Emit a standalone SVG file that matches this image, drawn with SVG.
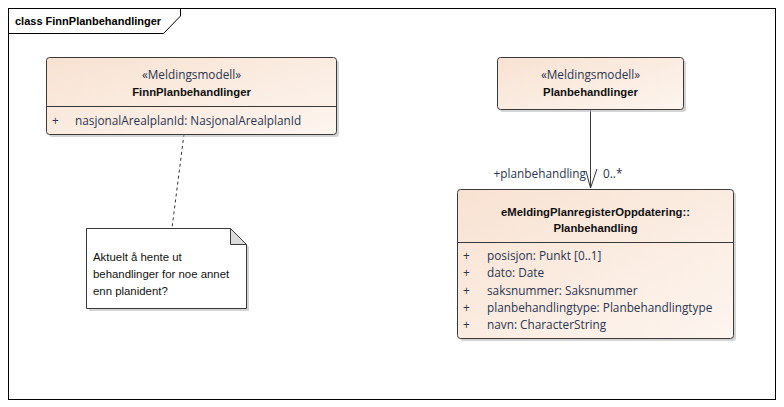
<svg xmlns="http://www.w3.org/2000/svg" width="784" height="407" viewBox="0 0 784 407">
<defs>
<linearGradient id="cls" x1="0" y1="0" x2="1" y2="1">
<stop offset="0" stop-color="#f8e2d2"/>
<stop offset="1" stop-color="#fdf5ef"/>
</linearGradient>
<style>
text{font-family:"Open Sans","Liberation Sans",Arial,sans-serif;font-size:11.8px;fill:#2a3550}
.b{font-family:"Liberation Sans",Arial,sans-serif;font-size:11.3px;font-weight:bold;fill:#111}
.n{font-family:"Liberation Sans",Arial,sans-serif;font-size:11.4px;fill:#111}
.c{text-anchor:middle}
.box{fill:url(#cls);stroke:#3a3a3a;stroke-width:1}
.sh{fill:#b8b8b8;opacity:0.6}
.ln{stroke:#3a3a3a;stroke-width:1;fill:none}
</style>
</defs>
<rect width="784" height="407" fill="#fff"/>
<g id="frame">
<rect x="8.5" y="8.5" width="767" height="391" fill="none" stroke="#000"/>
<path d="M8.5 33.5 H163.5 L180.5 16 V8.5" fill="none" stroke="#000"/>
<text x="15" y="25" class="b" style="fill:#000;font-size:11px">class FinnPlanbehandlinger</text>
</g>
<g id="connectors">
<path d="M184 134 L172 228" stroke="#333" stroke-width="1" stroke-dasharray="3,3" fill="none"/>
<path d="M590.5 109 V188" class="ln"/>
<path d="M586 171 L590.5 188 L597 169" class="ln"/>
<text x="586" y="178" style="text-anchor:end">+planbehandling</text>
<text x="603" y="178">0..*</text>
</g>
<g id="FinnPlanbehandlinger">
<rect x="49" y="60" width="290" height="77" rx="3" class="sh"/>
<rect x="46.5" y="57.5" width="290" height="77" rx="3" class="box"/>
<line x1="46.5" y1="106.5" x2="336.5" y2="106.5" class="ln"/>
<text x="191.5" y="79" class="c">«Meldingsmodell»</text>
<text x="191.5" y="96" class="c b">FinnPlanbehandlinger</text>
<text x="52" y="125">+</text>
<text x="75" y="125">nasjonalArealplanId: NasjonalArealplanId</text>
</g>
<g id="Planbehandlinger">
<rect x="500" y="60" width="186" height="52" rx="3" class="sh"/>
<rect x="497.5" y="57.5" width="186" height="52" rx="3" class="box"/>
<text x="590.5" y="79" class="c">«Meldingsmodell»</text>
<text x="590.5" y="96" class="c b">Planbehandlinger</text>
</g>
<g id="Planbehandling">
<rect x="460" y="192" width="276" height="149" rx="3" class="sh"/>
<rect x="457.5" y="189.5" width="276" height="149" rx="3" class="box"/>
<line x1="457.5" y1="242.5" x2="733.5" y2="242.5" class="ln"/>
<text x="595.5" y="216" class="c b">eMeldingPlanregisterOppdatering::</text>
<text x="595.5" y="232" class="c b">Planbehandling</text>
<text x="463" y="260">+</text><text x="487" y="260">posisjon: Punkt [0..1]</text>
<text x="463" y="277">+</text><text x="487" y="277">dato: Date</text>
<text x="463" y="295">+</text><text x="487" y="295">saksnummer: Saksnummer</text>
<text x="463" y="312">+</text><text x="487" y="312">planbehandlingtype: Planbehandlingtype</text>
<text x="463" y="329">+</text><text x="487" y="329">navn: CharacterString</text>
</g>
<g id="note">
<path d="M89 231 H233 L249 247 V311 H89 Z" class="sh"/>
<path d="M86.5 228.5 H230.5 L246.5 244.5 V308.5 H86.5 Z" fill="#fff" stroke="#3a3a3a"/>
<path d="M230.5 228.5 V244.5 H246.5 Z" fill="#dcdcdc" stroke="#3a3a3a"/>
<text x="93" y="261" class="n">Aktuelt å hente ut</text>
<text x="93" y="278" class="n">behandlinger for noe annet</text>
<text x="93" y="295" class="n">enn planident?</text>
</g>
</svg>
